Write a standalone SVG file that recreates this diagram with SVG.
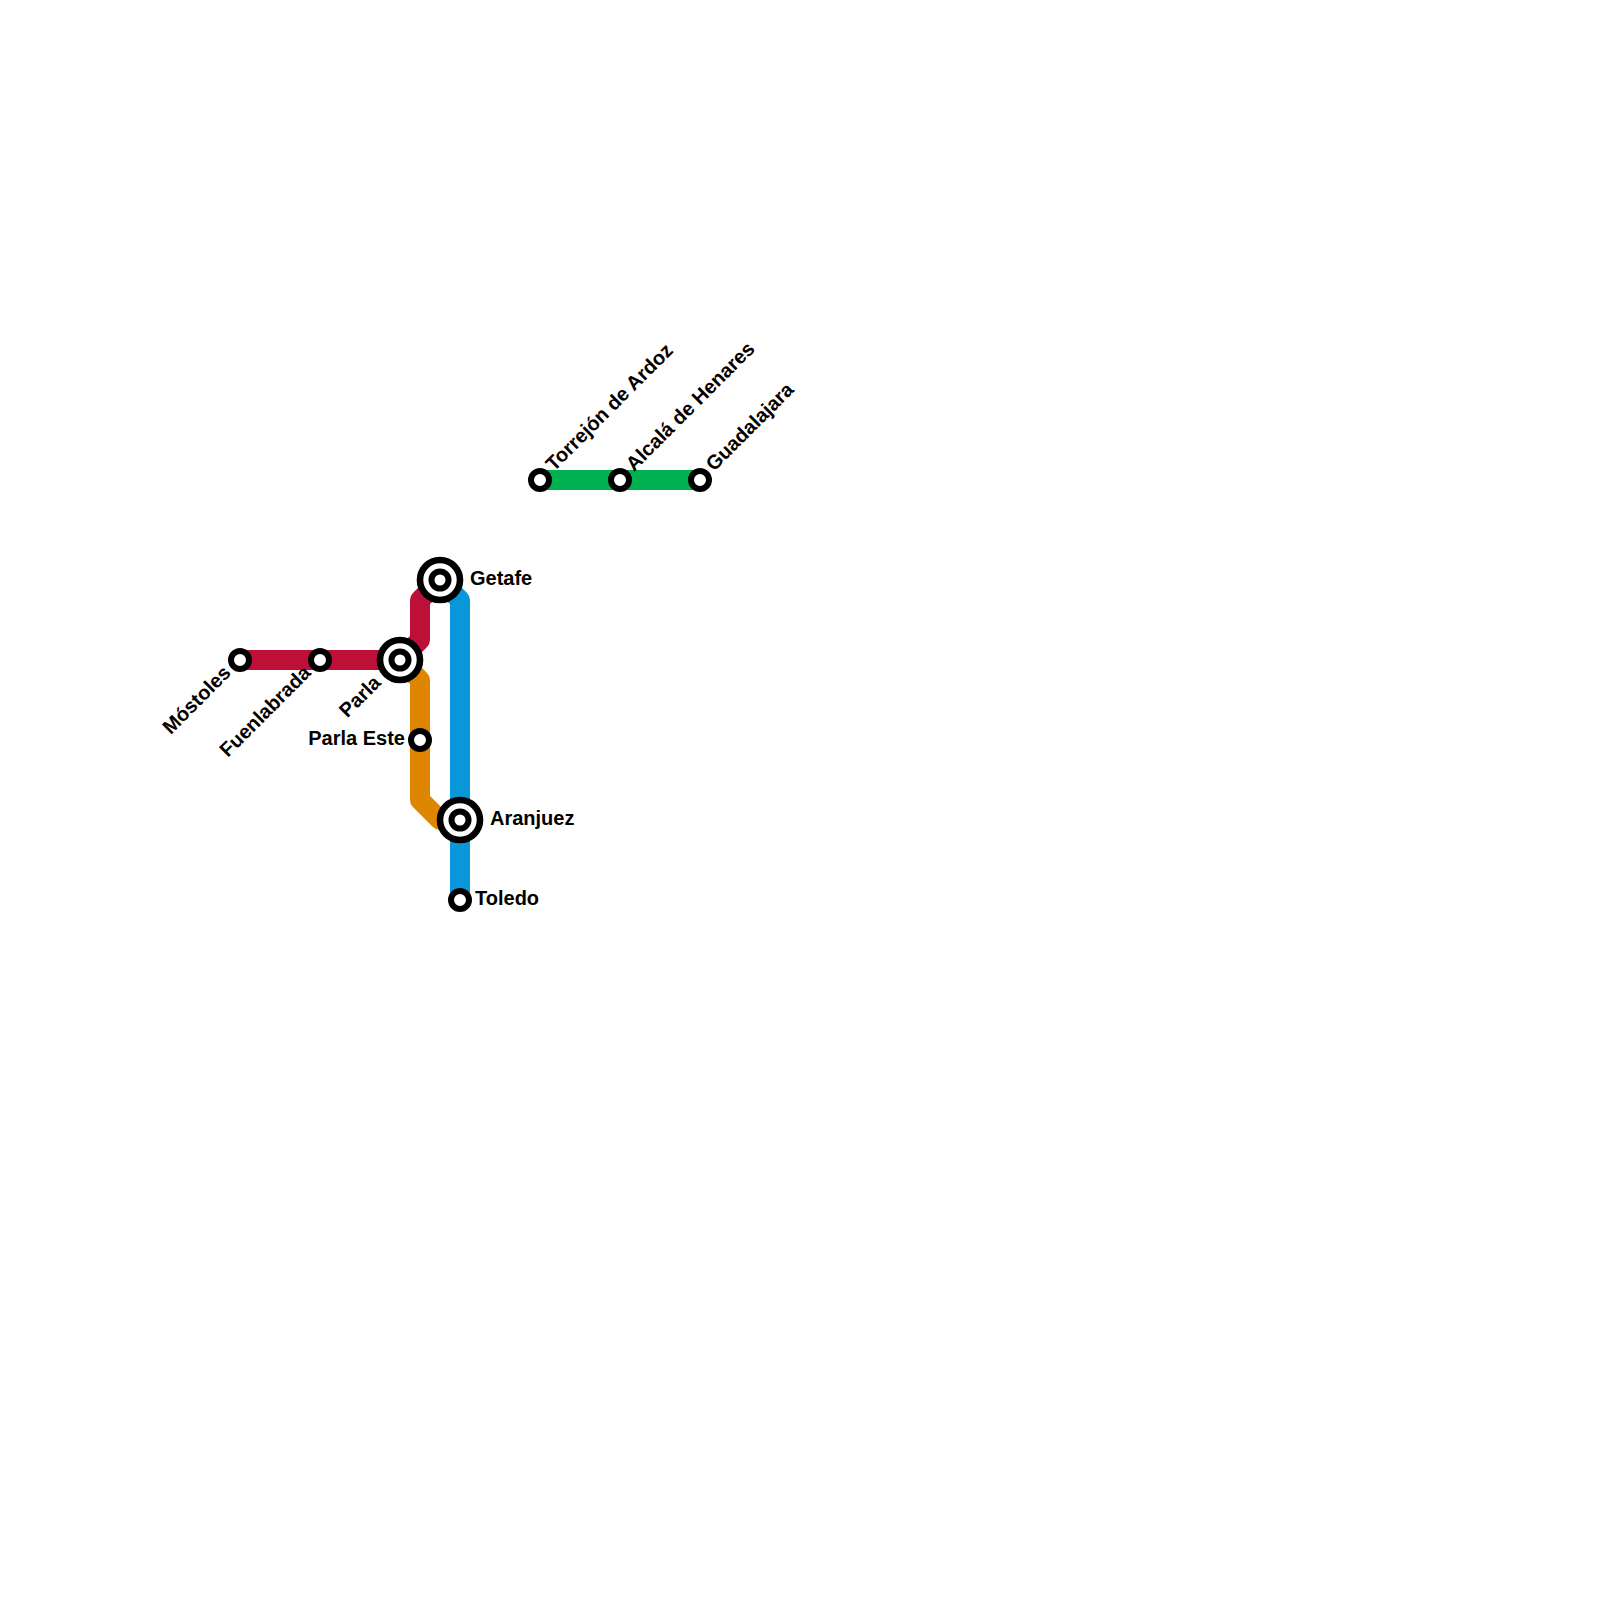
<svg xmlns="http://www.w3.org/2000/svg" width="1600" height="1600" viewBox="0 0 1600 1600">
<style>
.l{fill:none;stroke-width:20;stroke-linejoin:round;stroke-linecap:butt}
.s{fill:#fff;stroke:#000;stroke-width:6}
.o{fill:#fff;stroke:#000;stroke-width:6.6}
.i{fill:#fff;stroke:#000;stroke-width:6}
.t{font-family:"Liberation Sans",Arial,sans-serif;font-weight:700;font-size:20px;fill:#000}
</style>
<rect width="1600" height="1600" fill="#fff"/>
<g id="connectors">
<path class="l" stroke="#bd1038" d="M240 660H400L420 640V600L440 580"/>
<path class="l" stroke="#df8600" d="M400 660L420 680V800L440 820H460"/>
<path class="l" stroke="#0a97d9" d="M440 580L460 600V900"/>
<path class="l" stroke="#00b251" d="M540 480H700"/>
</g>
<g id="mostoles"><circle class="s" cx="240" cy="660" r="9"/><text class="t" text-anchor="end" transform="translate(227 669) rotate(-45)" x="0" y="7">Móstoles</text></g>
<g id="fuenlabrada"><circle class="s" cx="320" cy="660" r="9"/><text class="t" text-anchor="end" transform="translate(307 669) rotate(-45)" x="0" y="7">Fuenlabrada</text></g>
<g id="parla"><circle class="o" cx="400" cy="660" r="20"/><circle class="i" cx="400" cy="660" r="8.5"/><text class="t" text-anchor="end" transform="translate(377 679) rotate(-45)" x="0" y="7">Parla</text></g>
<g id="parla-este"><circle class="s" cx="420" cy="740" r="9"/><text class="t" text-anchor="end" x="405" y="744.5">Parla Este</text></g>
<g id="getafe"><circle class="o" cx="440" cy="580" r="20"/><circle class="i" cx="440" cy="580" r="8.5"/><text class="t" x="470" y="584.5">Getafe</text></g>
<g id="aranjuez"><circle class="o" cx="460" cy="820" r="20"/><circle class="i" cx="460" cy="820" r="8.5"/><text class="t" x="490" y="824.5">Aranjuez</text></g>
<g id="toledo"><circle class="s" cx="460" cy="900" r="9"/><text class="t" x="475" y="904.5">Toledo</text></g>
<g id="torrejon"><circle class="s" cx="540" cy="480" r="9"/><text class="t" transform="translate(549 467) rotate(-45)" x="0" y="7">Torrejón de Ardoz</text></g>
<g id="alcala"><circle class="s" cx="620" cy="480" r="9"/><text class="t" transform="translate(629 467) rotate(-45)" x="0" y="7">Alcalá de Henares</text></g>
<g id="guadalajara"><circle class="s" cx="700" cy="480" r="9"/><text class="t" transform="translate(709 467) rotate(-45)" x="0" y="7">Guadalajara</text></g>
</svg>
